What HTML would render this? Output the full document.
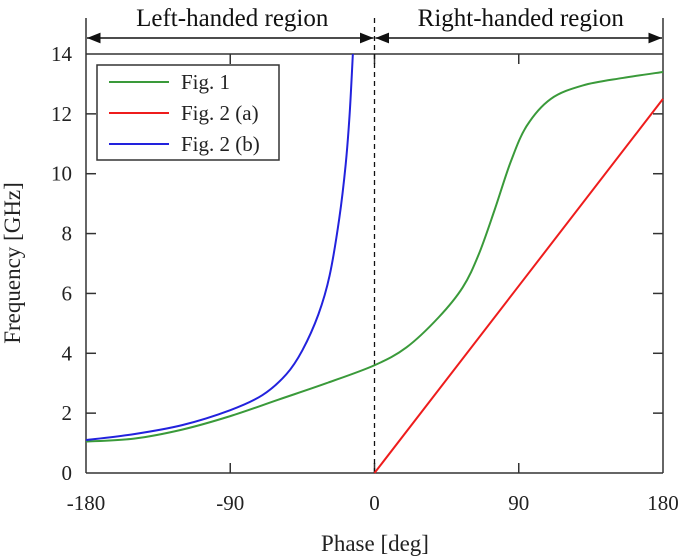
<!DOCTYPE html>
<html><head><meta charset="utf-8"><style>
body{margin:0;background:#fff}
svg{display:block;font-family:"Liberation Serif",serif}
</style></head><body>
<svg id="c" width="685" height="558"></svg>
<script>
const xTicks=[-180,-90,0,90,180];
const yTicks=[0,2,4,6,8,10,12,14];
const blueX=[-180,-150,-120,-90,-70,-55,-45,-35,-28,-22,-18,-15.5,-13.5];
const blueY=[1.1,1.3,1.6,2.1,2.6,3.3,4.1,5.3,6.6,8.5,10.3,12,14];
const greenX=[-180,-150,-120,-90,-60,-30,0,20,40,55,65,75,85,95,110,130,155,180];
const greenY=[1.05,1.15,1.45,1.9,2.45,3.0,3.6,4.2,5.2,6.2,7.3,8.8,10.4,11.6,12.5,12.95,13.2,13.4];
const redX=[0,180];
const redY=[0,12.5];
const NS='http://www.w3.org/2000/svg';
const svg=document.getElementById('c');
const X0=86,X1=663,Y0=473,Y1=54;
const sx=v=>X0+(v+180)/360*(X1-X0);
const sy=v=>Y0-v/14*(Y0-Y1);
function mk(t,a,p){const e=document.createElementNS(NS,t);for(const k in a)e.setAttribute(k,a[k]);(p||svg).appendChild(e);return e;}
let e=mk('line',{x1:X0,y1:18,x2:X0,y2:Y0,stroke:'#333','stroke-width':1.5});

e=mk('line',{x1:X1,y1:18,x2:X1,y2:Y0,stroke:'#333','stroke-width':1.5});

e=mk('line',{x1:X0,y1:Y0,x2:X1,y2:Y0,stroke:'#333','stroke-width':1.5});

e=mk('line',{x1:X0,y1:Y1,x2:X1,y2:Y1,stroke:'#333','stroke-width':1.5});

xTicks.forEach(t=>{
  const x=sx(t);
  if(t>-180&&t<180){let l=mk('line',{x1:x,y1:Y0,x2:x,y2:Y0-10,stroke:'#333','stroke-width':1.5});
  
  l=mk('line',{x1:x,y1:Y1,x2:x,y2:Y1+10,stroke:'#333','stroke-width':1.5});
  }
  const tx=mk('text',{x:x,y:510,'text-anchor':'middle','font-size':21,fill:'#222'});tx.textContent=t;
  
});
yTicks.forEach(t=>{
  const y=sy(t);
  if(t>0&&t<14){let l=mk('line',{x1:X0,y1:y,x2:X0+10,y2:y,stroke:'#333','stroke-width':1.5});
  
  l=mk('line',{x1:X1,y1:y,x2:X1-10,y2:y,stroke:'#333','stroke-width':1.5});
  }
  const tx=mk('text',{x:72,y:y+7,'text-anchor':'end','font-size':21,fill:'#222'});tx.textContent=t;
  
});
const xz=sx(0);
e=mk('line',{x1:xz,y1:18,x2:xz,y2:Y0,stroke:'#111','stroke-width':1.3,'stroke-dasharray':'5,4'});

mk('defs',{}).innerHTML='<marker id="ar" viewBox="0 0 10 10" refX="10" refY="5" markerWidth="9" markerHeight="9" orient="auto-start-reverse"><path d="M0,1 L10,5 L0,9 z" fill="#111"/></marker>';
e=mk('line',{x1:X0+1,y1:38,x2:xz-1,y2:38,stroke:'#111','stroke-width':1.5,'marker-start':'url(#ar)','marker-end':'url(#ar)'});

e=mk('line',{x1:xz+1,y1:38,x2:X1-1,y2:38,stroke:'#111','stroke-width':1.5,'marker-start':'url(#ar)','marker-end':'url(#ar)'});

e=mk('text',{x:(X0+xz)/2+2,y:26,'text-anchor':'middle','font-size':25,fill:'#111'});e.textContent='Left-handed region';

e=mk('text',{x:(xz+X1)/2+2,y:26,'text-anchor':'middle','font-size':25,fill:'#111'});e.textContent='Right-handed region';

function pathD(xs,ys){
  const p=xs.map((x,i)=>[sx(x),sy(ys[i])]);
  let d='M'+p[0][0]+','+p[0][1];
  for(let i=0;i<p.length-1;i++){
    const a=p[Math.max(0,i-1)],b=p[i],c=p[i+1],n=p[Math.min(p.length-1,i+2)];
    const c1=[b[0]+(c[0]-a[0])/6,b[1]+(c[1]-a[1])/6],c2=[c[0]-(n[0]-b[0])/6,c[1]-(n[1]-b[1])/6];
    d+=' C'+c1+' '+c2+' '+c;
  }
  return d;
}
e=mk('path',{d:pathD(greenX,greenY),fill:'none',stroke:'#3a9a3a','stroke-width':2});

e=mk('path',{d:pathD(redX,redY),fill:'none',stroke:'#ee1c1c','stroke-width':2});

e=mk('path',{d:pathD(blueX,blueY),fill:'none',stroke:'#2222dd','stroke-width':2});

const lg=mk('g',{});

mk('rect',{x:97,y:65,width:182,height:95,fill:'#fff',stroke:'#333','stroke-width':1.5},lg);
const names=['Fig. 1','Fig. 2 (a)','Fig. 2 (b)'],cols=['#3a9a3a','#ee1c1c','#2222dd'];
names.forEach((n,i)=>{
  const y=82+i*31;
  const g=mk('g',{},lg);
  
  mk('line',{x1:109,y1:y,x2:169,y2:y,stroke:cols[i],'stroke-width':2},g);
  const t=mk('text',{x:181,y:y+7,'font-size':21,fill:'#222'},g);t.textContent=n;
});
e=mk('text',{x:375,y:551,'text-anchor':'middle','font-size':23,fill:'#222'});e.textContent='Phase [deg]';

e=mk('text',{x:0,y:0,'text-anchor':'middle','font-size':23,fill:'#222',transform:'translate(20,263) rotate(-90)'});e.textContent='Frequency [GHz]';

</script>
</body></html>
